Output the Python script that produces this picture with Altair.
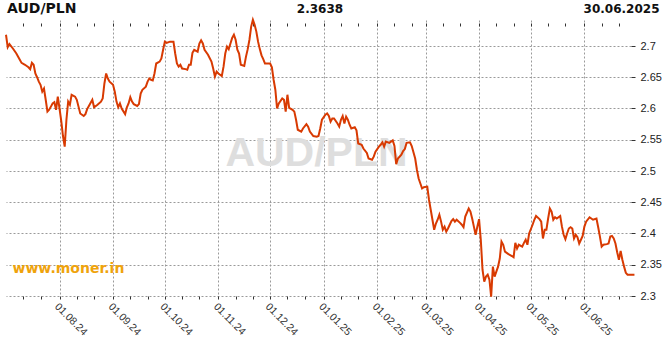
import altair as alt
import pandas as pd

# ---- data ----
dates = [
    "2024-07-01","2024-07-02","2024-07-03","2024-07-05","2024-07-07","2024-07-09","2024-07-10","2024-07-12",
    "2024-07-14","2024-07-15","2024-07-16","2024-07-17","2024-07-18","2024-07-19","2024-07-20","2024-07-21",
    "2024-07-22","2024-07-23","2024-07-24","2024-07-25","2024-07-26","2024-07-27","2024-07-28","2024-07-29",
    "2024-07-30","2024-07-31",
    "2024-08-01","2024-08-02","2024-08-03","2024-08-04","2024-08-05","2024-08-06","2024-08-07","2024-08-08",
    "2024-08-10","2024-08-11","2024-08-12","2024-08-13","2024-08-15","2024-08-16","2024-08-17","2024-08-18",
    "2024-08-20","2024-08-21","2024-08-23","2024-08-25","2024-08-26","2024-08-27","2024-08-28","2024-08-29",
    "2024-08-30",
    "2024-09-01","2024-09-02","2024-09-03","2024-09-04","2024-09-05","2024-09-06","2024-09-08","2024-09-09",
    "2024-09-10","2024-09-11","2024-09-12","2024-09-13","2024-09-15","2024-09-16","2024-09-17","2024-09-18",
    "2024-09-20","2024-09-21","2024-09-22","2024-09-23","2024-09-24","2024-09-25","2024-09-26","2024-09-28",
    "2024-09-29","2024-09-30",
    "2024-10-01","2024-10-02","2024-10-04","2024-10-06","2024-10-07","2024-10-08","2024-10-09","2024-10-10",
    "2024-10-11","2024-10-13","2024-10-14","2024-10-15","2024-10-16","2024-10-17","2024-10-18","2024-10-20",
    "2024-10-21","2024-10-22","2024-10-23","2024-10-24","2024-10-26","2024-10-28","2024-10-29","2024-10-30",
    "2024-10-31",
    "2024-11-01","2024-11-03","2024-11-04","2024-11-05","2024-11-06","2024-11-07","2024-11-08","2024-11-09",
    "2024-11-10","2024-11-11","2024-11-12","2024-11-13","2024-11-14","2024-11-16","2024-11-17","2024-11-18",
    "2024-11-19","2024-11-20","2024-11-21","2024-11-22","2024-11-23","2024-11-24","2024-11-25","2024-11-26",
    "2024-11-27","2024-11-28","2024-11-29",
    "2024-12-01","2024-12-02","2024-12-03","2024-12-04","2024-12-05","2024-12-06","2024-12-08","2024-12-09",
    "2024-12-10","2024-12-11","2024-12-12","2024-12-14","2024-12-15","2024-12-16","2024-12-17","2024-12-19",
    "2024-12-20","2024-12-22","2024-12-23","2024-12-24","2024-12-26","2024-12-28","2024-12-29","2024-12-30",
    "2024-12-31",
    "2025-01-02","2025-01-03","2025-01-04","2025-01-05","2025-01-06","2025-01-07","2025-01-09","2025-01-10",
    "2025-01-11","2025-01-12","2025-01-13","2025-01-14","2025-01-15","2025-01-16","2025-01-17","2025-01-19",
    "2025-01-20","2025-01-21","2025-01-23","2025-01-24","2025-01-26","2025-01-27","2025-01-29","2025-01-30",
    "2025-01-31",
    "2025-02-02","2025-02-03","2025-02-04","2025-02-05","2025-02-06","2025-02-08","2025-02-09","2025-02-10",
    "2025-02-11","2025-02-12","2025-02-13","2025-02-15","2025-02-16","2025-02-17","2025-02-18","2025-02-20",
    "2025-02-21","2025-02-22","2025-02-23","2025-02-24","2025-02-25","2025-02-26","2025-02-27","2025-02-28",
    "2025-03-02","2025-03-03","2025-03-04","2025-03-05","2025-03-06","2025-03-07","2025-03-08","2025-03-09",
    "2025-03-10","2025-03-11","2025-03-12","2025-03-13","2025-03-14","2025-03-15","2025-03-16","2025-03-17",
    "2025-03-18","2025-03-19","2025-03-21","2025-03-22","2025-03-23","2025-03-24","2025-03-26","2025-03-27",
    "2025-03-28","2025-03-29","2025-03-30","2025-03-31",
    "2025-04-01","2025-04-02","2025-04-03","2025-04-04","2025-04-05","2025-04-06","2025-04-07","2025-04-08",
    "2025-04-09","2025-04-10","2025-04-11","2025-04-12","2025-04-13","2025-04-14","2025-04-15","2025-04-16",
    "2025-04-18","2025-04-20","2025-04-21","2025-04-22","2025-04-23","2025-04-24","2025-04-26","2025-04-27",
    "2025-04-28","2025-04-29","2025-04-30",
    "2025-05-02","2025-05-03","2025-05-04","2025-05-06","2025-05-07","2025-05-08","2025-05-09","2025-05-10",
    "2025-05-11","2025-05-12","2025-05-13","2025-05-14","2025-05-15","2025-05-16","2025-05-18","2025-05-19",
    "2025-05-20","2025-05-21","2025-05-22","2025-05-23","2025-05-24","2025-05-25","2025-05-26","2025-05-27",
    "2025-05-28","2025-05-29","2025-05-30","2025-05-31",
    "2025-06-01","2025-06-02","2025-06-04","2025-06-05","2025-06-06","2025-06-08","2025-06-09","2025-06-10",
    "2025-06-11","2025-06-12","2025-06-14","2025-06-15","2025-06-16","2025-06-17","2025-06-18","2025-06-19",
    "2025-06-20","2025-06-21","2025-06-22","2025-06-23","2025-06-24","2025-06-25","2025-06-26","2025-06-30",
]
rates = [
    2.718,2.698,2.703,2.696,2.688,2.678,2.673,2.670,
    2.666,2.663,2.673,2.670,2.656,2.650,2.643,2.638,
    2.627,2.632,2.614,2.595,2.598,2.603,2.608,2.610,
    2.598,2.619,
    2.600,2.580,2.556,2.539,2.582,2.611,2.606,2.622,
    2.619,2.614,2.603,2.592,2.588,2.591,2.599,2.604,
    2.614,2.602,2.606,2.611,2.616,2.640,2.656,2.648,
    2.643,
    2.638,2.627,2.611,2.602,2.608,2.600,2.591,2.602,
    2.608,2.618,2.611,2.607,2.604,2.607,2.624,2.630,
    2.635,2.643,2.648,2.646,2.645,2.656,2.672,2.675,
    2.680,2.694,
    2.707,2.705,2.707,2.707,2.688,2.672,2.667,2.670,
    2.664,2.663,2.662,2.670,2.670,2.689,2.694,2.691,
    2.704,2.709,2.704,2.694,2.686,2.675,2.664,2.651,
    2.659,
    2.656,2.652,2.667,2.688,2.699,2.695,2.704,2.713,
    2.718,2.710,2.694,2.688,2.670,2.668,2.683,2.695,
    2.710,2.731,2.742,2.734,2.723,2.707,2.695,2.685,
    2.679,2.672,2.672,
    2.672,2.666,2.646,2.630,2.600,2.608,2.616,2.614,
    2.595,2.622,2.601,2.598,2.595,2.582,2.566,2.563,
    2.568,2.575,2.571,2.563,2.556,2.555,2.556,2.568,
    2.582,
    2.590,2.592,2.588,2.579,2.584,2.584,2.576,2.571,
    2.582,2.588,2.576,2.587,2.582,2.574,2.568,2.570,
    2.565,2.544,2.542,2.536,2.529,2.520,2.518,2.523,
    2.531,
    2.539,2.542,2.546,2.539,2.547,2.545,2.547,2.549,
    2.540,2.511,2.520,2.526,2.532,2.535,2.545,2.546,
    2.540,2.530,2.520,2.502,2.488,2.480,2.472,2.474,
    2.475,2.454,2.438,2.422,2.406,2.416,2.422,2.430,
    2.419,2.406,2.411,2.403,2.408,2.414,2.420,2.423,
    2.419,2.422,2.417,2.414,2.410,2.427,2.440,2.435,
    2.424,2.411,2.398,2.411,
    2.423,2.390,2.342,2.323,2.331,2.334,2.326,2.299,
    2.347,2.331,2.339,2.347,2.360,2.387,2.382,2.371,
    2.367,2.364,2.362,2.385,2.376,2.382,2.379,2.385,
    2.390,2.382,2.400,
    2.414,2.422,2.428,2.423,2.419,2.392,2.406,2.406,
    2.424,2.440,2.435,2.422,2.426,2.424,2.428,2.411,
    2.398,2.391,2.400,2.408,2.410,2.408,2.392,2.398,
    2.394,2.384,2.390,2.396,
    2.411,2.419,2.426,2.424,2.422,2.424,2.410,2.395,
    2.379,2.382,2.383,2.384,2.395,2.396,2.392,2.384,
    2.370,2.358,2.372,2.358,2.347,2.337,2.334,2.334,
]

pair_name = "AUD/PLN"
headline_value = "2.3638"
headline_date = "30.06.2025"
site_name = "www.moner.in"
y_ticks = [2.3, 2.35, 2.4, 2.45, 2.5, 2.55, 2.6, 2.65, 2.7]

# axis tick dates: 1st, 11th and 21st of each month
tick_dates = []
for ym in pd.period_range("2024-07", "2025-06", freq="M"):
    for d in (1, 11, 21):
        if ym.year == 2024 and ym.month == 7 and d == 1:
            continue
        tick_dates.append(alt.DateTime(year=ym.year, month=ym.month, date=d, utc=True))

df = pd.DataFrame({"date": dates, "rate": rates})

x_domain = [alt.DateTime(year=2024, month=7, date=1, utc=True),
            alt.DateTime(year=2025, month=6, date=28, utc=True)]
x_scale = alt.Scale(type="utc", domain=x_domain, nice=False)
y_scale = alt.Scale(domain=[2.3, 2.7416], nice=False, zero=False)

GRID = "#9a9a9a"
LABEL_FONT = "Liberation Sans"

bottom_axis = alt.Axis(
    orient="bottom", values=tick_dates, title=None,
    labelExpr="utcdate(datum.value) == 1 ? utcFormat(datum.value, '%d.%m.%y') : ''",
    labelAngle=45, labelAlign="left", labelBaseline="top", labelOverlap=False, labelFlush=False,
    labelFont=LABEL_FONT, labelFontSize=10.5, labelColor="#333", labelPadding=2,
    domain=False, tickSize=3, tickColor="#333", tickWidth=1,
    grid=True, gridColor=GRID, gridDash=[2, 2], gridWidth=1,
    gridOpacity={"condition": {"test": "utcdate(datum.value) == 1", "value": 1}, "value": 0},
)
right_axis = alt.Axis(
    orient="right", values=y_ticks, title=None, format=".2~f",
    labelFont=LABEL_FONT, labelFontSize=11, labelColor="#222", labelPadding=5,
    domain=False, tickSize=4, tickColor="#333",
    grid=True, gridColor=GRID, gridDash=[2, 2], gridWidth=1,
)
top_axis = alt.Axis(
    orient="top", values=tick_dates, title=None, labels=False, grid=False, domain=False,
    tickSize=3, tickColor="#333", offset=-6,
)

line = alt.Chart(df).mark_line(color="#d83a02", strokeWidth=2, clip=False).encode(
    x=alt.X("date:T", scale=x_scale, axis=bottom_axis),
    y=alt.Y("rate:Q", scale=y_scale, axis=right_axis),
)

top_ticks = alt.Chart(df).mark_point(opacity=0).encode(
    x=alt.X("date:T", scale=x_scale, axis=top_axis),
)

one = pd.DataFrame({"k": [0]})

def label(text, **kw):
    return alt.Chart(one).mark_text(**kw).encode(text=alt.value(text))

watermark = label(pair_name, font=LABEL_FONT, fontSize=41, fontWeight="bold", color="#dedede",
                  align="center", baseline="alphabetic").encode(x=alt.value(310.5), y=alt.value(146))
site = label(site_name, font="DejaVu Sans", fontSize=14, fontWeight="bold", color="#efa30c",
             align="left", baseline="alphabetic").encode(x=alt.value(6.5), y=alt.value(253))
t_left = label(pair_name, font="DejaVu Sans", fontSize=14, fontWeight="bold", color="#111",
               align="left", baseline="alphabetic").encode(x=alt.value(1), y=alt.value(-6.7))
t_mid = label(headline_value, font="DejaVu Sans", fontSize=12, fontWeight="bold", color="#111",
              align="center", baseline="alphabetic").encode(x=alt.value(314), y=alt.value(-6.7))
t_right = label(headline_date, font="DejaVu Sans", fontSize=12, fontWeight="bold", color="#111",
                align="right", baseline="alphabetic").encode(x=alt.value(653.5), y=alt.value(-6.7))

chart = alt.layer(watermark, site, top_ticks, line, t_left, t_mid, t_right).resolve_axis(
    x="independent"
).properties(
    width=625, height=276,
    autosize=alt.AutoSizeParams(type="none"),
    padding={"left": 6, "top": 20, "right": 39, "bottom": 54},
).configure_view(stroke=None)

chart.save("out.html", embed_options={"renderer": "svg", "actions": False})
